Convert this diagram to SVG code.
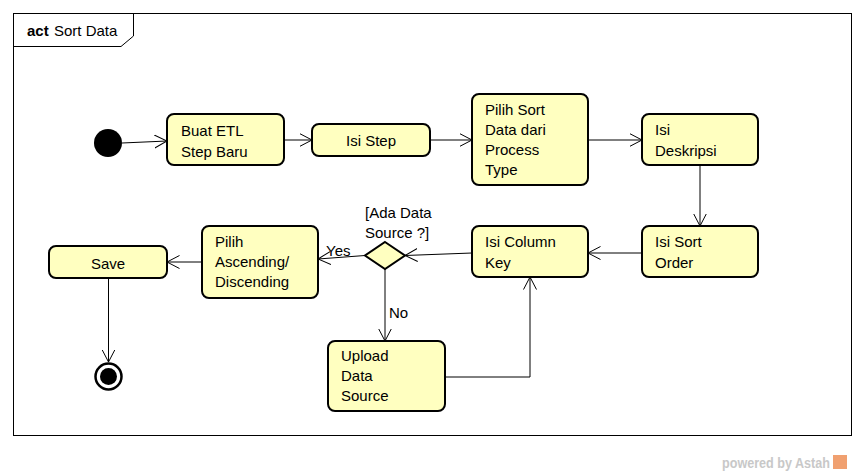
<svg xmlns="http://www.w3.org/2000/svg" width="866" height="476" viewBox="0 0 866 476">
<style>
text{font-family:"Liberation Sans",Arial,sans-serif;font-size:15px;fill:#000}
.act{fill:#ffffc0;stroke:#000;stroke-width:2}
.ln{fill:none;stroke:#000;stroke-width:1}
</style>
<defs>
<marker id="arr" viewBox="0 0 13 14" refX="12.5" refY="7" markerWidth="13" markerHeight="14" markerUnits="userSpaceOnUse" orient="auto">
<path d="M0,0.5 L12.5,7 L0,13.5" fill="none" stroke="#000" stroke-width="1"/>
</marker>
</defs>
<rect x="0" y="0" width="866" height="476" fill="#fff"/>
<g id="frame">
<rect x="13.5" y="13.5" width="838" height="422" fill="none" stroke="#000" stroke-width="1"/>
<path d="M13.5,46.5 H121 L133.5,36 V13.5" fill="none" stroke="#000" stroke-width="1"/>
<text x="27" y="36"><tspan font-weight="bold">act</tspan><tspan x="54">Sort Data</tspan></text>
</g>
<g id="connectors">
<line class="ln" x1="122" y1="143" x2="167" y2="141" marker-end="url(#arr)"/>
<line class="ln" x1="284" y1="140" x2="312" y2="140" marker-end="url(#arr)"/>
<line class="ln" x1="430" y1="140" x2="472" y2="140" marker-end="url(#arr)"/>
<line class="ln" x1="588" y1="140" x2="642" y2="140" marker-end="url(#arr)"/>
<line class="ln" x1="700" y1="165" x2="700" y2="226" marker-end="url(#arr)"/>
<line class="ln" x1="642" y1="253" x2="588" y2="253" marker-end="url(#arr)"/>
<line class="ln" x1="472" y1="253" x2="405" y2="255.5" marker-end="url(#arr)"/>
<line class="ln" x1="365" y1="255.5" x2="318" y2="259" marker-end="url(#arr)"/>
<line class="ln" x1="202" y1="262" x2="167" y2="262" marker-end="url(#arr)"/>
<line class="ln" x1="108.5" y1="278" x2="108.5" y2="362" marker-end="url(#arr)"/>
<line class="ln" x1="385" y1="269" x2="385" y2="341" marker-end="url(#arr)"/>
<polyline class="ln" points="445,377 530,377 530,277" marker-end="url(#arr)"/>
<text x="326" y="256">Yes</text>
<text x="389" y="318">No</text>
</g>
<g id="initial"><circle cx="108" cy="143" r="14" fill="#000"/></g>
<g id="buat-etl">
<rect class="act" x="167" y="114" width="117" height="51" rx="7"/>
<text x="181" y="136">Buat ETL</text><text x="181" y="157">Step Baru</text>
</g>
<g id="isi-step">
<rect class="act" x="312" y="124" width="118" height="32" rx="7"/>
<text x="371" y="146" text-anchor="middle">Isi Step</text>
</g>
<g id="pilih-sort">
<rect class="act" x="472" y="94" width="116" height="91" rx="7"/>
<text x="485" y="115">Pilih Sort</text><text x="485" y="135">Data dari</text><text x="485" y="155">Process</text><text x="485" y="175">Type</text>
</g>
<g id="isi-deskripsi">
<rect class="act" x="642" y="114" width="116" height="51" rx="7"/>
<text x="655" y="135">Isi</text><text x="655" y="156">Deskripsi</text>
</g>
<g id="isi-sort-order">
<rect class="act" x="642" y="226" width="116" height="51" rx="7"/>
<text x="655" y="247">Isi Sort</text><text x="655" y="268">Order</text>
</g>
<g id="isi-column-key">
<rect class="act" x="472" y="226" width="116" height="51" rx="7"/>
<text x="485" y="247">Isi Column</text><text x="485" y="268">Key</text>
</g>
<g id="decision">
<polygon points="385,242 405,255.5 385,269 365,255.5" fill="#ffffc0" stroke="#000" stroke-width="2"/>
<text x="365" y="218">[Ada Data</text><text x="365" y="238">Source ?]</text>
</g>
<g id="pilih-ascending">
<rect class="act" x="202" y="226" width="116" height="72" rx="7"/>
<text x="215" y="247">Pilih</text><text x="215" y="267">Ascending/</text><text x="215" y="287">Discending</text>
</g>
<g id="save">
<rect class="act" x="49" y="246" width="118" height="32" rx="7"/>
<text x="108" y="269" text-anchor="middle">Save</text>
</g>
<g id="final">
<circle cx="108.5" cy="376.5" r="13" fill="#fff" stroke="#000" stroke-width="2.5"/>
<circle cx="108.5" cy="376.5" r="8.5" fill="#000"/>
</g>
<g id="upload">
<rect class="act" x="328" y="341" width="117" height="70" rx="7"/>
<text x="341" y="361">Upload</text><text x="341" y="381">Data</text><text x="341" y="401">Source</text>
</g>
<g id="watermark">
<text x="722" y="468" textLength="108" lengthAdjust="spacingAndGlyphs" style="font-weight:bold;fill:#c8c8c8;font-size:14px">powered by Astah</text>
<rect x="833" y="455" width="14" height="14" fill="#f0a070"/>
</g>
</svg>
